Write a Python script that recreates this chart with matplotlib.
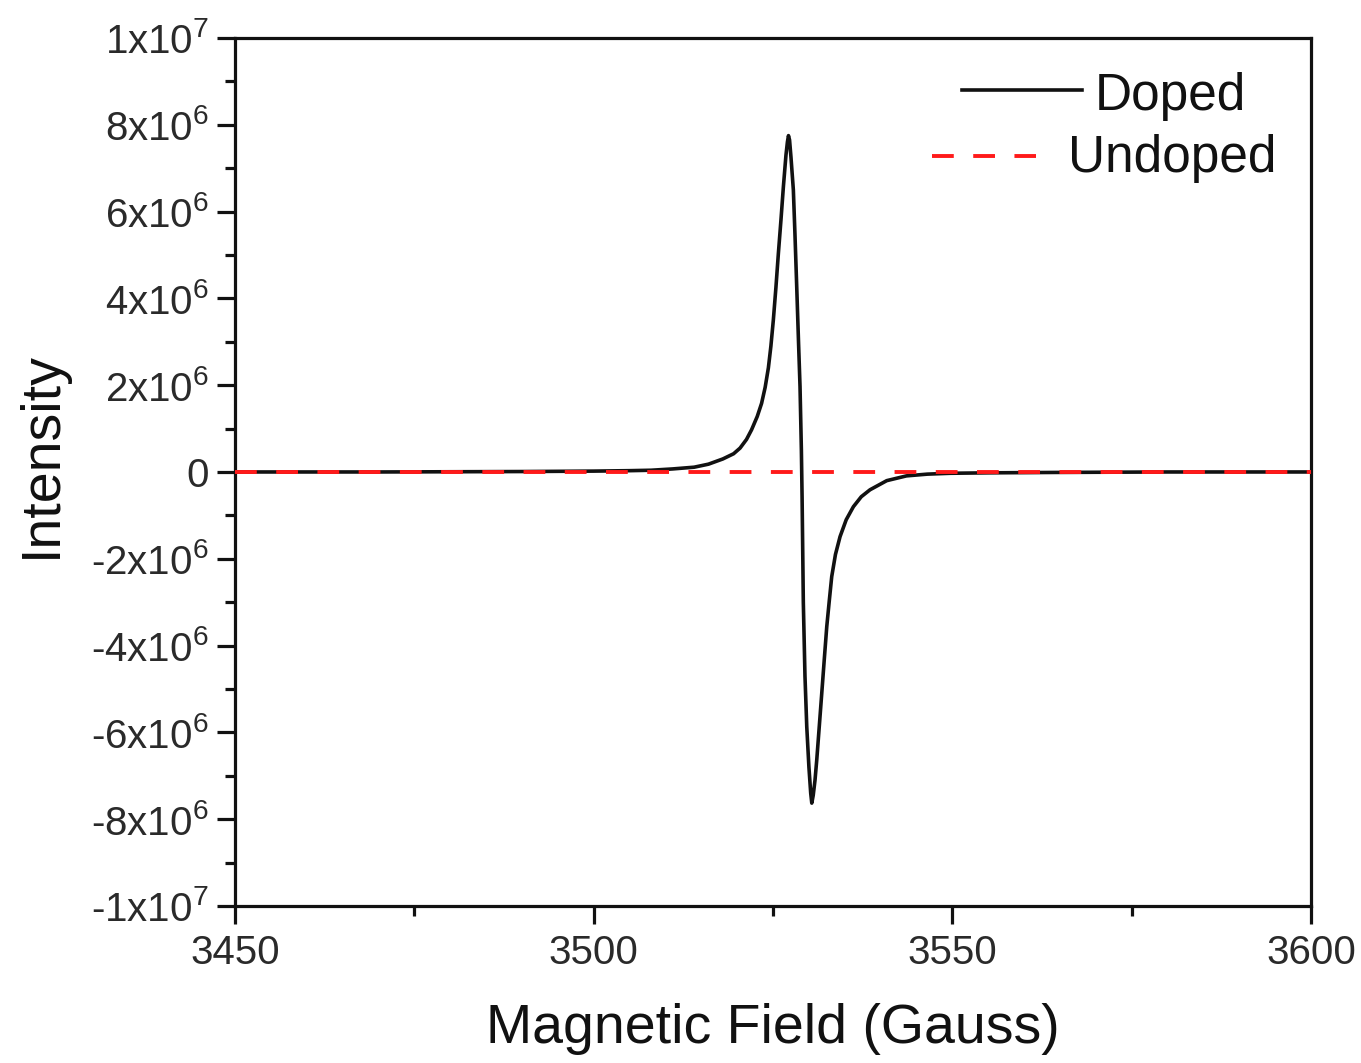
import matplotlib
matplotlib.use("Agg")
import matplotlib.pyplot as plt
from matplotlib.lines import Line2D
from matplotlib.ticker import MultipleLocator

plt.rcParams['font.family'] = ['Liberation Sans', 'DejaVu Sans']
plt.rcParams['mathtext.fontset'] = 'custom'
plt.rcParams['mathtext.rm'] = 'Liberation Sans'
plt.rcParams['mathtext.it'] = 'Liberation Sans'
plt.rcParams['mathtext.bf'] = 'Liberation Sans'

# ---- data (Intensity in units of 1e6) ----
doped_field = [3450, 3470, 3490, 3500, 3505, 3508, 3511, 3514, 3516, 3518,
               3519.5, 3520.4, 3521.3, 3522.0, 3522.8, 3523.4, 3523.9, 3524.35,
               3524.7, 3525.04, 3525.4, 3525.74, 3526.1, 3526.44, 3526.8,
               3527.0, 3527.15, 3527.3, 3527.5, 3527.83, 3528.05, 3528.3,
               3528.55, 3528.76, 3528.95, 3529.05, 3529.15, 3529.22, 3529.45,
               3529.70, 3530.0, 3530.25, 3530.4, 3530.6, 3530.85, 3531.09,
               3531.45, 3531.79, 3532.15, 3532.49, 3532.85, 3533.18, 3533.7,
               3534.34, 3535.2, 3536.2, 3537.3, 3538.52, 3540.85, 3543.6,
               3546.5, 3549.7, 3555, 3565, 3580, 3600]
doped_intensity = [0.0, 0.0, 0.01, 0.02, 0.03, 0.04, 0.07, 0.11, 0.18, 0.30,
                   0.42, 0.55, 0.75, 0.97, 1.28, 1.58, 1.95, 2.40,
                   2.90, 3.50, 4.25, 5.03, 5.80, 6.57, 7.30,
                   7.60, 7.75, 7.65, 7.25, 6.50, 5.50, 4.27,
                   3.00, 1.97, 0.50, -0.60, -2.00, -3.00, -4.70,
                   -5.87, -6.80, -7.40, -7.63, -7.45, -7.10, -6.64,
                   -5.85, -5.10, -4.30, -3.56, -2.95, -2.41, -1.90,
                   -1.49, -1.10, -0.80, -0.57, -0.41, -0.20, -0.09,
                   -0.05, -0.03, -0.02, -0.01, 0.0, 0.0]
undoped_field = [3450, 3500, 3550, 3600]
undoped_intensity = [0.0, 0.0, 0.0, 0.0]

series_names = ["Doped", "Undoped"]
x_ticks = [3450, 3500, 3550, 3600]
y_ticks = [-10, -8, -6, -4, -2, 0, 2, 4, 6, 8, 10]
y_tick_labels = ["-1x10$^{7}$", "-8x10$^{6}$", "-6x10$^{6}$", "-4x10$^{6}$",
                 "-2x10$^{6}$", "0", "2x10$^{6}$", "4x10$^{6}$", "6x10$^{6}$",
                 "8x10$^{6}$", "1x10$^{7}$"]
scale = 1e6

fig = plt.figure(figsize=(13.61, 10.63), dpi=100)
ax = fig.add_axes([0.1727, 0.1477, 0.7906, 0.8166])

ax.plot(doped_field, [v * scale for v in doped_intensity], color='#111111',
        lw=2.6, solid_joinstyle='round', solid_capstyle='round', zorder=3)
ax.plot(undoped_field, [v * scale for v in undoped_intensity], color='#ff1a1a',
        lw=2.8, dashes=(5.6, 5.0), zorder=4)

ax.set_xlim(3450, 3600)
ax.set_ylim(-1e7, 1e7)
ax.set_xticks(x_ticks)
ax.set_xticklabels([str(t) for t in x_ticks])
ax.xaxis.set_minor_locator(MultipleLocator(25))
ax.set_yticks([t * scale for t in y_ticks])
ax.set_yticklabels(y_tick_labels)
ax.yaxis.set_minor_locator(MultipleLocator(1e6))

for s in ax.spines.values():
    s.set_linewidth(2.3)
    s.set_color('#111111')

ax.tick_params(axis='both', which='major', direction='out', length=13, width=2.3,
               labelsize=29, colors='#111111', labelcolor='#2a2a2a')
ax.tick_params(axis='x', which='major', pad=7)
ax.tick_params(axis='y', which='major', pad=6)
ax.tick_params(axis='both', which='minor', direction='out', length=7, width=2.3,
               colors='#111111')
ax.tick_params(top=False, right=False, which='both')

ax.set_xlabel("Magnetic Field (Gauss)", fontsize=40, color='#111111')
ax.set_ylabel("Intensity", fontsize=40, color='#111111')
ax.xaxis.set_label_coords(0.5, -0.112)
ax.yaxis.set_label_coords(-0.155, 0.52)

# legend drawn by hand, matching the reference layout
ax.add_line(Line2D([0.6757, 0.7872], [0.9401, 0.9401], transform=ax.transAxes,
                   color='#111111', lw=2.6))
ax.text(0.7993, 0.9171, series_names[0], transform=ax.transAxes, fontsize=37,
        va='baseline', ha='left', color='#111111')
ax.add_line(Line2D([0.6475, 0.7444], [0.8641, 0.8641], transform=ax.transAxes,
                   color='#ff1a1a', lw=2.8, dashes=(5.6, 5.0)))
ax.text(0.7742, 0.8456, series_names[1], transform=ax.transAxes, fontsize=37,
        va='baseline', ha='left', color='#111111')

fig.savefig("out.png", dpi=100)
